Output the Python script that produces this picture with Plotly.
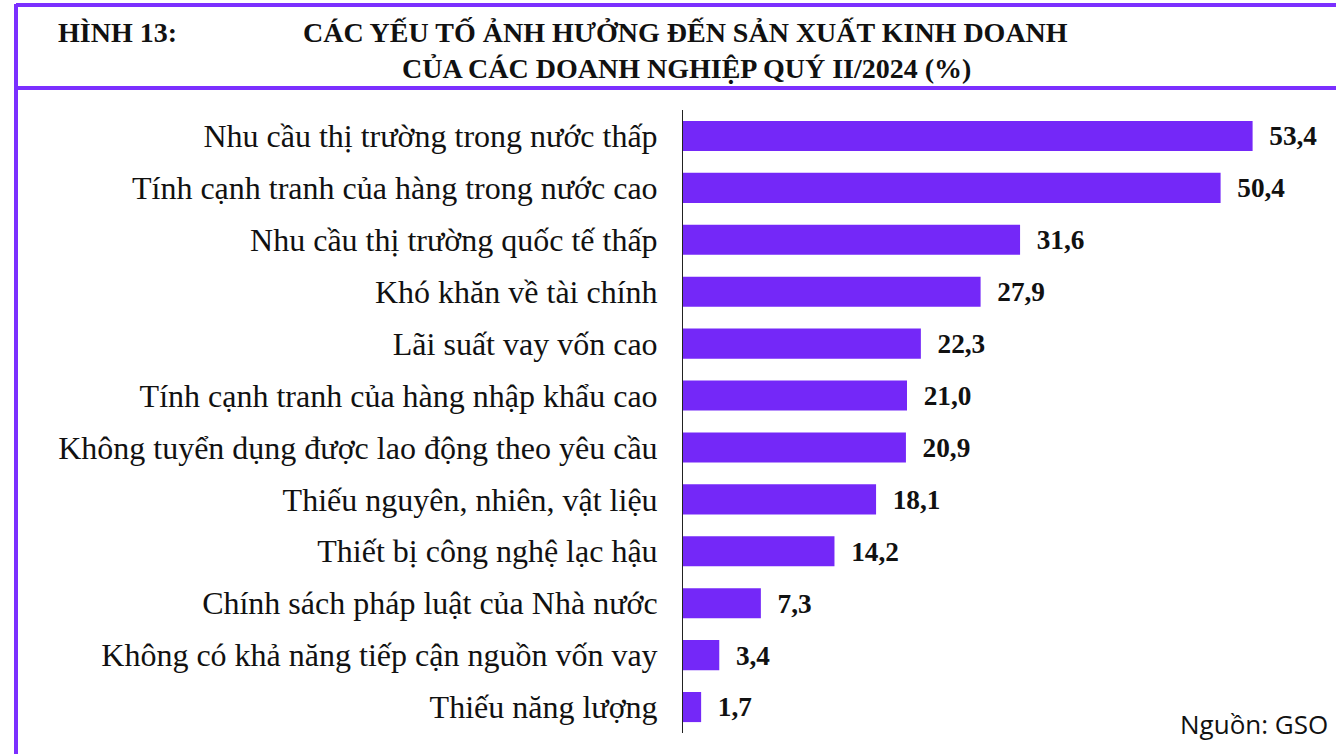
import plotly.graph_objects as go

categories = [
    "Nhu cầu thị trường trong nước thấp",
    "Tính cạnh tranh của hàng trong nước cao",
    "Nhu cầu thị trường quốc tế thấp",
    "Khó khăn về tài chính",
    "Lãi suất vay vốn cao",
    "Tính cạnh tranh của hàng nhập khẩu cao",
    "Không tuyển dụng được lao động theo yêu cầu",
    "Thiếu nguyên, nhiên, vật liệu",
    "Thiết bị công nghệ lạc hậu",
    "Chính sách pháp luật của Nhà nước",
    "Không có khả năng tiếp cận nguồn vốn vay",
    "Thiếu năng lượng",
]
values = [53.4, 50.4, 31.6, 27.9, 22.3, 21.0, 20.9, 18.1, 14.2, 7.3, 3.4, 1.7]
value_labels = [f"{v:.1f}".replace(".", ",") for v in values]

title_left = "HÌNH 13:"
title_line1 = "CÁC YẾU TỐ ẢNH HƯỞNG ĐẾN SẢN XUẤT KINH DOANH"
title_line2 = "CỦA CÁC DOANH NGHIỆP QUÝ II/2024 (%)"
source_text = "Nguồn: GSO"

W, H = 1336, 754
ML, MR, MT, MB = 683, 13, 110, 21
PW, PH = W - ML - MR, H - MT - MB

BAR = "#7428F8"
BORDER = "#7B2FFF"
SERIF = "Liberation Serif, Times New Roman, serif"


def px(x):
    return (x - ML) / PW


def py(y):
    return 1 - (y - MT) / PH


fig = go.Figure(
    go.Bar(
        x=values,
        y=categories,
        orientation="h",
        marker=dict(color=BAR, line=dict(width=0)),
        text=["  " + t for t in value_labels],
        textposition="outside",
        textfont=dict(family=SERIF, size=29, color="#111111", weight="bold"),
        cliponaxis=False,
        hoverinfo="skip",
    )
)

fig.update_layout(
    width=W,
    height=H,
    margin=dict(l=ML, r=MR, t=MT, b=MB, pad=0),
    plot_bgcolor="white",
    paper_bgcolor="white",
    bargap=0.42,
    showlegend=False,
    xaxis=dict(range=[0, 60], visible=False, fixedrange=True),
    yaxis=dict(
        autorange="reversed",
        showline=True,
        linecolor="#222222",
        linewidth=1,
        showgrid=False,
        ticks="",
        ticklabelstandoff=18,
        tickfont=dict(family=SERIF, size=32, color="#111111"),
        fixedrange=True,
    ),
)

shape_style = dict(type="line", xref="paper", yref="paper", line=dict(color=BORDER, width=4))
fig.add_shape(x0=px(16), x1=px(16), y0=py(4), y1=py(H + 2), **shape_style)
fig.add_shape(x0=px(16), x1=px(W + 2), y0=py(5), y1=py(5), **shape_style)
fig.add_shape(x0=px(16), x1=px(W + 2), y0=py(88), y1=py(88), **shape_style)

fig.add_annotation(
    x=px(56), y=py(32), xref="paper", yref="paper", xanchor="left", yanchor="middle",
    text=f"<b>{title_left}</b>", showarrow=False,
    font=dict(family=SERIF, size=28, color="#111111"),
)
fig.add_annotation(
    x=px(685), y=py(32), xref="paper", yref="paper", xanchor="center", yanchor="middle",
    text=f"<b>{title_line1}</b>", showarrow=False,
    font=dict(family=SERIF, size=28, color="#111111"),
)
fig.add_annotation(
    x=px(686), y=py(68), xref="paper", yref="paper", xanchor="center", yanchor="middle",
    text=f"<b>{title_line2}</b>", showarrow=False,
    font=dict(family=SERIF, size=28, color="#111111"),
)
fig.add_annotation(
    x=px(1330), y=py(724), xref="paper", yref="paper", xanchor="right", yanchor="middle",
    text=source_text, showarrow=False,
    font=dict(family="Open Sans, Liberation Sans, sans-serif", size=26, color="#111111"),
)

fig.write_html(
    "out.html",
    config={"displayModeBar": False},
    post_script="document.body.style.margin='0';document.body.style.overflow='hidden';",
)
